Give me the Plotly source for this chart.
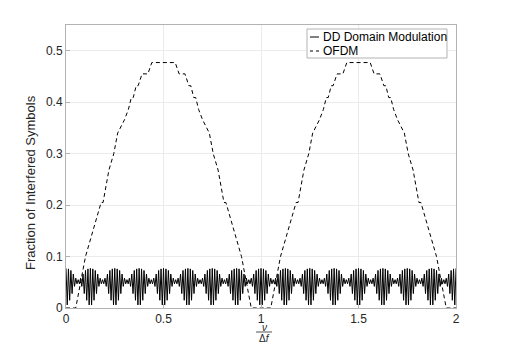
import numpy as np
import plotly.graph_objects as go

# normalised Doppler nu / delta f
ofdm_x = [0, 0.05, 0.1, 0.14, 0.18, 0.19, 0.22, 0.245, 0.265, 0.3, 0.32, 0.335, 0.345, 0.36, 0.37, 0.39, 0.42, 0.44,
          0.56, 0.58, 0.61, 0.63, 0.64, 0.655, 0.665, 0.68, 0.7, 0.735, 0.755, 0.78, 0.81, 0.82, 0.86, 0.9, 0.95,
          1.05, 1.1, 1.14, 1.18, 1.19, 1.22, 1.245, 1.265, 1.3, 1.32, 1.335, 1.345, 1.36, 1.37, 1.39, 1.42, 1.44,
          1.56, 1.58, 1.61, 1.63, 1.64, 1.655, 1.665, 1.68, 1.7, 1.735, 1.755, 1.78, 1.81, 1.82, 1.86, 1.9, 1.95,
          2.0]
ofdm_y = [0, 0, 0.1, 0.15, 0.205, 0.205, 0.268, 0.3, 0.34, 0.366, 0.386, 0.409, 0.409, 0.432, 0.432, 0.455, 0.455, 0.477,
          0.477, 0.455, 0.455, 0.432, 0.432, 0.409, 0.409, 0.386, 0.366, 0.34, 0.3, 0.268, 0.205, 0.205, 0.15, 0.1, 0,
          0, 0.1, 0.15, 0.205, 0.205, 0.268, 0.3, 0.34, 0.366, 0.386, 0.409, 0.409, 0.432, 0.432, 0.455, 0.455, 0.477,
          0.477, 0.455, 0.455, 0.432, 0.432, 0.409, 0.409, 0.386, 0.366, 0.34, 0.3, 0.268, 0.205, 0.205, 0.15, 0.1, 0,
          0]

dd_x = np.linspace(0, 2, 321)
dd_y = [
    0.077, 0.006, 0.076, 0.015, 0.073, 0.028, 0.066, 0.042, 0.058, 0.047, 0.055, 0.047, 0.058, 0.042, 0.066, 0.028, 0.073, 0.015, 0.076, 0.006,
    0.077, 0.006, 0.076, 0.015, 0.073, 0.028, 0.066, 0.042, 0.058, 0.047, 0.055, 0.047, 0.058, 0.042, 0.066, 0.028, 0.073, 0.015, 0.076, 0.006,
    0.077, 0.006, 0.076, 0.015, 0.073, 0.028, 0.066, 0.042, 0.058, 0.047, 0.055, 0.047, 0.058, 0.042, 0.066, 0.028, 0.073, 0.015, 0.076, 0.006,
    0.077, 0.006, 0.076, 0.015, 0.073, 0.028, 0.066, 0.042, 0.058, 0.047, 0.055, 0.047, 0.058, 0.042, 0.066, 0.028, 0.073, 0.015, 0.076, 0.006,
    0.077, 0.006, 0.076, 0.015, 0.073, 0.028, 0.066, 0.042, 0.058, 0.047, 0.055, 0.047, 0.058, 0.042, 0.066, 0.028, 0.073, 0.015, 0.076, 0.006,
    0.077, 0.006, 0.076, 0.015, 0.073, 0.028, 0.066, 0.042, 0.058, 0.047, 0.055, 0.047, 0.058, 0.042, 0.066, 0.028, 0.073, 0.015, 0.076, 0.006,
    0.077, 0.006, 0.076, 0.015, 0.073, 0.028, 0.066, 0.042, 0.058, 0.047, 0.055, 0.047, 0.058, 0.042, 0.066, 0.028, 0.073, 0.015, 0.076, 0.006,
    0.077, 0.006, 0.076, 0.015, 0.073, 0.028, 0.066, 0.042, 0.058, 0.047, 0.055, 0.047, 0.058, 0.042, 0.066, 0.028, 0.073, 0.015, 0.076, 0.006,
    0.077, 0.006, 0.076, 0.015, 0.073, 0.028, 0.066, 0.042, 0.058, 0.047, 0.055, 0.047, 0.058, 0.042, 0.066, 0.028, 0.073, 0.015, 0.076, 0.006,
    0.077, 0.006, 0.076, 0.015, 0.073, 0.028, 0.066, 0.042, 0.058, 0.047, 0.055, 0.047, 0.058, 0.042, 0.066, 0.028, 0.073, 0.015, 0.076, 0.006,
    0.077, 0.006, 0.076, 0.015, 0.073, 0.028, 0.066, 0.042, 0.058, 0.047, 0.055, 0.047, 0.058, 0.042, 0.066, 0.028, 0.073, 0.015, 0.076, 0.006,
    0.077, 0.006, 0.076, 0.015, 0.073, 0.028, 0.066, 0.042, 0.058, 0.047, 0.055, 0.047, 0.058, 0.042, 0.066, 0.028, 0.073, 0.015, 0.076, 0.006,
    0.077, 0.006, 0.076, 0.015, 0.073, 0.028, 0.066, 0.042, 0.058, 0.047, 0.055, 0.047, 0.058, 0.042, 0.066, 0.028, 0.073, 0.015, 0.076, 0.006,
    0.077, 0.006, 0.076, 0.015, 0.073, 0.028, 0.066, 0.042, 0.058, 0.047, 0.055, 0.047, 0.058, 0.042, 0.066, 0.028, 0.073, 0.015, 0.076, 0.006,
    0.077, 0.006, 0.076, 0.015, 0.073, 0.028, 0.066, 0.042, 0.058, 0.047, 0.055, 0.047, 0.058, 0.042, 0.066, 0.028, 0.073, 0.015, 0.076, 0.006,
    0.077, 0.006, 0.076, 0.015, 0.073, 0.028, 0.066, 0.042, 0.058, 0.047, 0.055, 0.047, 0.058, 0.042, 0.066, 0.028, 0.073, 0.015, 0.076, 0.006,
    0.077,
]

x_ticks = [0, 0.5, 1, 1.5, 2]
x_labels = ["0", "0.5", "1", "1.5", "2"]
y_ticks = [0, 0.1, 0.2, 0.3, 0.4, 0.5]
y_labels = ["0", "0.1", "0.2", "0.3", "0.4", "0.5"]

# the page body adds an 8px offset, so the figure is a little smaller than the window
OFF = 8
W, H = 505 - OFF, 346 - OFF
# plot area in window pixels: x 66..456, y 25..308
AX0, AX1, AY0, AY1 = 66, 456, 25, 308
L, T = AX0 - OFF, AY0 - OFF
R, B = W + OFF - AX1, H + OFF - AY1
PW, PH = AX1 - AX0, AY1 - AY0


def px(x):
    return (x - AX0) / PW


def py(y):
    return (AY1 - y) / PH


font = "Liberation Sans, Arial, Helvetica, sans-serif"
axis_col = "#b3b3b3"
text_col = "#262626"

fig = go.Figure()
fig.add_trace(go.Scatter(x=dd_x, y=dd_y, mode="lines", line=dict(color="black", width=1), showlegend=False))
fig.add_trace(go.Scatter(x=ofdm_x, y=ofdm_y, mode="lines",
                         line=dict(color="black", width=1, dash="4px,3px"), showlegend=False))

axis_common = dict(showline=True, mirror=True, linecolor=axis_col, linewidth=1,
                   ticks="inside", ticklen=4, tickcolor=axis_col,
                   showgrid=True, gridcolor="#ebebeb", gridwidth=1, zeroline=False,
                   tickfont=dict(family=font, size=12, color=text_col))
fig.update_xaxes(range=[0, 2], tickvals=x_ticks, ticktext=x_labels, **axis_common)
fig.update_yaxes(range=[0, 0.55], tickvals=y_ticks, ticktext=y_labels, **axis_common)

# legend box drawn by hand (matlab style, short samples)
shapes = [
    dict(type="rect", xref="paper", yref="paper", x0=px(307), x1=px(447), y0=py(58), y1=py(29),
         line=dict(color=axis_col, width=1), fillcolor="white", layer="above"),
    dict(type="line", xref="paper", yref="paper", x0=px(310), x1=px(319), y0=py(37), y1=py(37),
         line=dict(color="black", width=1), layer="above"),
    dict(type="line", xref="paper", yref="paper", x0=px(310), x1=px(319), y0=py(51), y1=py(51),
         line=dict(color="black", width=1, dash="3px,3px"), layer="above"),
    # fraction bar of the x label
    dict(type="line", xref="paper", yref="paper", x0=px(256), x1=px(272), y0=py(332), y1=py(332),
         line=dict(color=text_col, width=0.8)),
]

annotations = [
    dict(text="DD Domain Modulation", x=px(321), y=py(37), xref="paper", yref="paper",
         xanchor="left", yanchor="middle", showarrow=False, font=dict(family=font, size=12, color="black")),
    dict(text="OFDM", x=px(321), y=py(51), xref="paper", yref="paper",
         xanchor="left", yanchor="middle", showarrow=False, font=dict(family=font, size=12, color="black")),
    dict(text="Fraction of Interfered Symbols", x=px(30), y=py(183), xref="paper", yref="paper",
         textangle=-90, xanchor="center", yanchor="middle", showarrow=False,
         font=dict(family=font, size=13, color=text_col)),
    dict(text="<i>ν</i>", x=px(264), y=py(327), xref="paper", yref="paper",
         xanchor="center", yanchor="middle", showarrow=False, font=dict(family=font, size=10, color=text_col)),
    dict(text="Δ<i>f</i>", x=px(264), y=py(339), xref="paper", yref="paper",
         xanchor="center", yanchor="middle", showarrow=False, font=dict(family=font, size=10, color=text_col)),
]

fig.update_layout(
    width=W, height=H,
    margin=dict(l=L, r=R, t=T, b=B),
    paper_bgcolor="white", plot_bgcolor="white",
    shapes=shapes, annotations=annotations,
    showlegend=False,
)

fig.write_html("out.html")
